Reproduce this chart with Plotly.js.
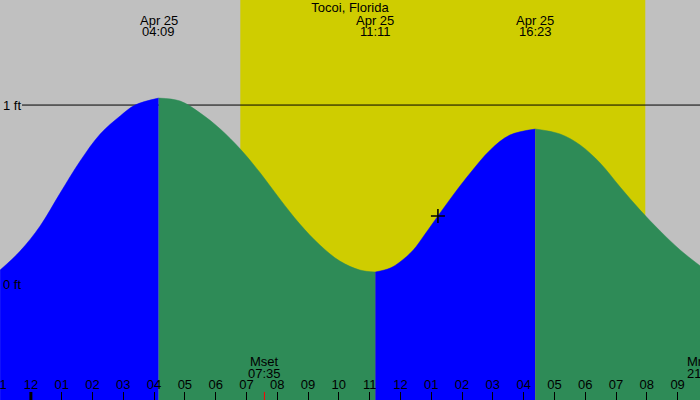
<!DOCTYPE html>
<html>
<head>
<meta charset="utf-8">
<script src="https://cdn.plot.ly/plotly-3.0.1.min.js"></script>
<style>html,body{margin:0;padding:0;background:#c0c0c0;}#chart{width:700px;height:400px;}</style>
</head>
<body>
<div id="chart"></div>
<script>
// ---- data ----
var title = 'Tocoi, Florida';
// rising (blue) segment 1
var rise1T = ['2025-04-24 23:00','2025-04-24 23:39','2025-04-25 00:18','2025-04-25 00:57','2025-04-25 01:36','2025-04-25 02:15','2025-04-25 02:54','2025-04-25 03:23','2025-04-25 04:09'];
var rise1H = [0.078, 0.184, 0.324, 0.508, 0.687, 0.838, 0.939, 1.000, 1.039];
// falling (green) segment 1
var fall1T = ['2025-04-25 04:09','2025-04-25 04:51','2025-04-25 05:30','2025-04-25 06:09','2025-04-25 06:48','2025-04-25 07:27','2025-04-25 08:05','2025-04-25 08:44','2025-04-25 09:23','2025-04-25 10:02','2025-04-25 10:41','2025-04-25 11:11'];
var fall1H = [1.039, 1.022, 0.955, 0.866, 0.754, 0.620, 0.475, 0.335, 0.218, 0.128, 0.078, 0.067];
// rising (blue) segment 2
var rise2T = ['2025-04-25 11:11','2025-04-25 11:40','2025-04-25 11:59','2025-04-25 12:25','2025-04-25 12:48','2025-04-25 13:13','2025-04-25 13:50','2025-04-25 14:16','2025-04-25 14:55','2025-04-25 15:33','2025-04-25 16:23'];
var rise2H = [0.067, 0.089, 0.123, 0.190, 0.279, 0.380, 0.525, 0.620, 0.749, 0.832, 0.866];
// falling (green) segment 2
var fall2T = ['2025-04-25 16:23','2025-04-25 17:11','2025-04-25 17:50','2025-04-25 18:29','2025-04-25 19:08','2025-04-25 19:47','2025-04-25 20:26','2025-04-25 21:05','2025-04-25 21:44'];
var fall2H = [0.866, 0.838, 0.777, 0.676, 0.542, 0.413, 0.296, 0.190, 0.101];

// extremes labels
var extremeT = ['2025-04-25 04:09','2025-04-25 11:11','2025-04-25 16:23'];
var extremeDate = ['Apr 25','Apr 25','Apr 25'];
var extremeTime = ['04:09','11:11','16:23'];
// sun
var sunrise = '2025-04-25 06:48';
var sunset = '2025-04-25 19:57';
// moon
var moonT = ['2025-04-25 07:35','2025-04-25 21:50'];
var moonName = ['Mset','Mrise'];
var moonTime = ['07:35','21:50'];
// current time marker
var nowT = ['2025-04-25 13:13'];
var nowH = [0.380];
// axes
var xRange = ['2025-04-24 22:59:50','2025-04-25 21:43:36'];
var yRange = [-0.648, 1.587];
var yTickVals = [0, 1];
var yTickText = ['0 ft', '1 ft'];
var midnight = '2025-04-25 00:00';

// ---- build ----
var FONT = 'Liberation Sans, Arial, sans-serif';
var FS = 13;
var BLUE = '#0000ff', GREEN = '#2e8b57';
var baseVal = yRange[0] - 1;
function seg(t, h, color) {
  var base = {x: t, y: t.map(function(){return baseVal;}), mode: 'lines', line: {width: 0, color: color}, hoverinfo: 'skip', showlegend: false};
  var curve = {x: t, y: h, mode: 'lines', line: {width: 0.5, color: color, shape: 'spline', smoothing: 1}, fill: 'tonexty', fillcolor: color, hoverinfo: 'skip', showlegend: false};
  return [base, curve];
}
var data = [].concat(seg(rise1T, rise1H, BLUE), seg(fall1T, fall1H, GREEN), seg(rise2T, rise2H, BLUE), seg(fall2T, fall2H, GREEN));
data.push({x: nowT, y: nowH, mode: 'markers', marker: {symbol: 'cross-thin', size: 10, line: {width: 1.6, color: '#000'}}, showlegend: false, hoverinfo: 'skip'});

function toMs(s) { return new Date(s.replace(' ', 'T') + 'Z').getTime(); }
var r0 = toMs(xRange[0]), r1 = toMs(xRange[1]);
function paperX(s) { return (toMs(s) - r0) / (r1 - r0); }

var shapes = [
  {type: 'rect', layer: 'below', xref: 'x', yref: 'paper', x0: sunrise, x1: sunset, y0: 0, y1: 1, fillcolor: '#cfcd00', line: {width: 0}},
  {type: 'line', layer: 'between', xref: 'paper', yref: 'y', x0: 22/700, x1: 1, y0: yTickVals[1], y1: yTickVals[1], line: {color: '#000', width: 1}},
  {type: 'line', layer: 'above', xref: 'x', yref: 'paper', x0: midnight, x1: midnight, y0: 0, y1: 0.02, line: {color: '#000', width: 3}},
  {type: 'line', layer: 'above', xref: 'x', yref: 'paper', x0: moonT[0], x1: moonT[0], y0: 0, y1: 0.02, line: {color: '#ff0000', width: 1}}
];

var annotations = [];
var afont = {family: FONT, size: FS, color: '#000'};
extremeT.forEach(function(t, i) {
  annotations.push({x: t, xref: 'x', yref: 'paper', xanchor: 'center', y: 1 - 20/400, yanchor: 'middle', text: extremeDate[i], showarrow: false, font: afont});
  annotations.push({x: t, xref: 'x', yref: 'paper', xanchor: 'center', y: 1 - 31.7/400, yanchor: 'middle', text: extremeTime[i], showarrow: false, font: afont});
});
moonT.forEach(function(t, i) {
  annotations.push({x: paperX(t), xref: 'paper', yref: 'paper', xanchor: 'center', y: 1 - 361.7/400, yanchor: 'middle', text: moonName[i], showarrow: false, font: afont});
  annotations.push({x: paperX(t), xref: 'paper', yref: 'paper', xanchor: 'center', y: 1 - 373/400, yanchor: 'middle', text: moonTime[i], showarrow: false, font: afont});
});

var layout = {
  width: 700, height: 400,
  margin: {l: 0, r: 0, t: 0, b: 0, pad: 0},
  paper_bgcolor: '#c0c0c0', plot_bgcolor: '#c0c0c0',
  showlegend: false,
  title: {text: title, x: 0.5, xanchor: 'center', y: 1 - 7.5/400, yanchor: 'middle', yref: 'container', font: {family: FONT, size: FS, color: '#000'}, pad: {t: 0, b: 0}},
  font: {family: FONT, size: FS, color: '#000'},
  xaxis: {type: 'date', range: xRange, tick0: '2025-04-24 23:00', dtick: 3600000, tickformat: '%I',
    ticks: 'inside', ticklen: 8, tickwidth: 1, tickcolor: '#000', ticklabelposition: 'inside', ticklabeloverflow: 'allow',
    showgrid: false, zeroline: false, showline: false, fixedrange: true,
    tickfont: {family: FONT, size: FS, color: '#000'}},
  yaxis: {range: yRange, tickvals: yTickVals, ticktext: yTickText, ticks: '', ticklabelposition: 'inside', ticklabeloverflow: 'allow',
    showgrid: false, zeroline: false, showline: false, fixedrange: true,
    tickfont: {family: FONT, size: FS, color: '#000'}},
  shapes: shapes,
  annotations: annotations
};
Plotly.newPlot('chart', data, layout, {staticPlot: true, displayModeBar: false});
</script>
</body>
</html>
